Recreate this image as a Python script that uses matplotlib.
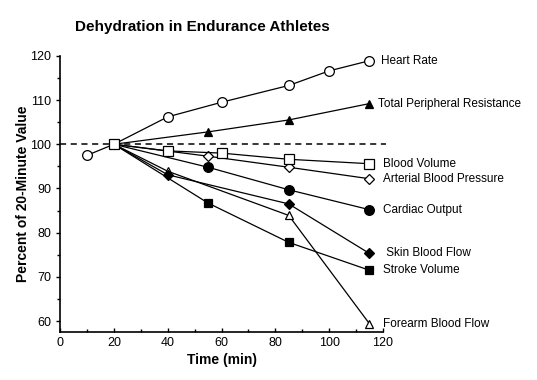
import numpy as np
import matplotlib.pyplot as plt

plt.rcParams['font.family'] = ['Liberation Sans', 'DejaVu Sans']

# data (time in min, percent of 20-min value)
hr_t = [10, 20, 40, 60, 85, 100, 115]
hr_v = [97.5, 100, 106.2, 109.5, 113.3, 116.6, 118.9]
tpr_t = [20, 55, 85, 115]
tpr_v = [100, 102.8, 105.5, 109.2]
bv_t = [20, 40, 60, 85, 115]
bv_v = [100, 98.5, 98.0, 96.6, 95.6]
abp_t = [20, 55, 85, 115]
abp_v = [100, 97.3, 94.8, 92.2]
co_t = [20, 55, 85, 115]
co_v = [100, 94.8, 89.7, 85.2]
sbf_t = [20, 40, 85, 115]
sbf_v = [100, 93.1, 86.5, 75.3]
sv_t = [20, 55, 85, 115]
sv_v = [100, 86.7, 77.8, 71.5]
fbf_t = [20, 40, 85, 115]
fbf_v = [100, 93.9, 83.9, 59.4]

series = [
    ("Forearm Blood Flow", fbf_t, fbf_v, '^', 'white', 5.5, 10),
    ("Stroke Volume", sv_t, sv_v, 's', 'black', 6, 10),
    (" Skin Blood Flow", sbf_t, sbf_v, 'D', 'black', 5, 10),
    ("Cardiac Output", co_t, co_v, 'o', 'black', 7, 10),
    ("Arterial Blood Pressure", abp_t, abp_v, 'D', 'white', 5, 10),
    ("Total Peripheral Resistance", tpr_t, tpr_v, '^', 'black', 6, 6),
    ("Heart Rate", hr_t, hr_v, 'o', 'white', 7, 8),
    ("Blood Volume", bv_t, bv_v, 's', 'white', 6.5, 10),
]

fig = plt.figure(figsize=(5.37, 3.8), dpi=100)
ax = fig.add_axes([0.112, 0.126, 0.601, 0.727])

ax.axhline(100, xmin=0, xmax=1.01, color='black', ls=(0, (4, 3)), lw=1.1, clip_on=False, zorder=1)

for name, t, v, mk, fc, ms, off in series:
    idx = t.index(20)
    mev = [i for i in range(len(t)) if i != idx or name == "Blood Volume"]
    ax.plot(t, v, color='black', lw=0.9, marker=mk, mfc=fc, mec='black',
            ms=ms, mew=0.9, markevery=mev, zorder=3 if name != "Blood Volume" else 4)
    ax.annotate(name, (t[-1], v[-1]), xytext=(off, 0), textcoords='offset points',
                va='center', ha='left', fontsize=8.5, annotation_clip=False)

ax.set_xlim(0, 120)
ax.set_ylim(57.5, 120)
ax.set_xticks(np.arange(0, 121, 20))
ax.set_xticks(np.arange(0, 121, 10), minor=True)
ax.set_yticks(np.arange(60, 121, 10))
ax.set_yticks(np.arange(60, 121, 5), minor=True)
ax.tick_params(axis='x', direction='in', which='both', labelsize=9, length=3, width=1)
ax.tick_params(axis='x', which='minor', length=2)
ax.tick_params(axis='y', direction='out', which='both', labelsize=9, length=3, width=1)
ax.tick_params(axis='y', which='minor', length=2)
for s in ['top', 'right']:
    ax.spines[s].set_visible(False)
for s in ['left', 'bottom']:
    ax.spines[s].set_linewidth(1.2)

ax.set_xlabel("Time (min)", fontsize=10, fontweight='bold', labelpad=3)
ax.set_ylabel("Percent of 20-Minute Value", fontsize=10, fontweight='bold', labelpad=0)
fig.text(0.14, 0.928, "Dehydration in Endurance Athletes", fontsize=11, fontweight='bold', va='center')

fig.savefig("out.png", dpi=100)
